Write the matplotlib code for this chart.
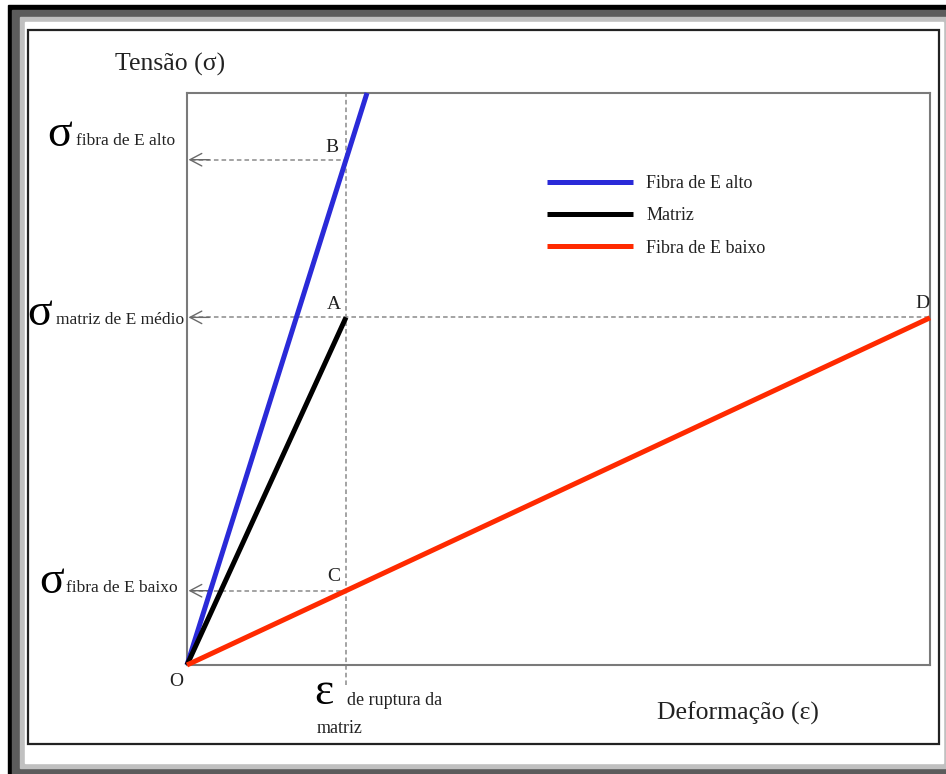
import matplotlib.pyplot as plt
from matplotlib.patches import Rectangle

plt.rcParams['font.family'] = ['Liberation Serif', 'DejaVu Serif']

# strain / stress in fractions of the plotted range
eps_ruptura = 0.214
E_alto = 4.128      # fibra de E alto
E_matriz = 2.84     # matriz de E medio
E_baixo = 0.607     # fibra de E baixo

strain_alto = [0, 1.0 / E_alto]
stress_alto = [0, 1.0]
strain_matriz = [0, eps_ruptura]
stress_matriz = [0, E_matriz * eps_ruptura]
strain_baixo = [0, 1.0]
stress_baixo = [0, E_baixo * 1.0]

sigma_B = E_alto * eps_ruptura
sigma_A = E_matriz * eps_ruptura
sigma_C = E_baixo * eps_ruptura

legend_labels = ['Fibra de E alto', 'Matriz', 'Fibra de E baixo']
colors = ['#2a2ad8', '#000000', '#ff2a00']

W, H = 946, 774
fig = plt.figure(figsize=(W / 100, H / 100), dpi=100)

# window-like frame behind everything, in pixel coordinates
bg = fig.add_axes([0, 0, 1, 1], zorder=0)
bg.set_xlim(0, W)
bg.set_ylim(H, 0)
bg.axis('off')
bg.add_patch(Rectangle((8, 5), 1000, 1000, color='black'))
bg.add_patch(Rectangle((12, 10), 1000, 1000, color='#5c5c5c'))
bg.add_patch(Rectangle((20, 17), 928, 751, color='#c0c0c0'))
bg.add_patch(Rectangle((25, 22), 918, 741, color='white'))
bg.add_patch(Rectangle((27.5, 30), 911.5, 714, fill=False, ec='#222222', lw=1.6))

# pixel-placed labels
bg.text(115, 64, 'Tensão (σ)', fontsize=18.5, va='center', ha='left', color='#222222')
bg.text(657, 713, 'Deformação (ε)', fontsize=18.5, va='center', ha='left', color='#222222')

big = 33
small = 12.5
bg.text(47, 146, 'σ', fontsize=big, va='baseline', ha='left')
bg.text(76, 145, 'fibra de E alto', fontsize=small, va='baseline', ha='left', color='#222222')
bg.text(27, 325, 'σ', fontsize=big, va='baseline', ha='left')
bg.text(56, 324, 'matriz de E médio', fontsize=small, va='baseline', ha='left', color='#222222')
bg.text(39, 593, 'σ', fontsize=big, va='baseline', ha='left')
bg.text(66, 592, 'fibra de E baixo', fontsize=small, va='baseline', ha='left', color='#222222')

bg.text(314, 704, 'ε', fontsize=big, va='baseline', ha='left')
bg.text(347, 705, 'de ruptura da', fontsize=13, va='baseline', ha='left', color='#222222')
bg.text(317, 733, 'matriz', fontsize=13, va='baseline', ha='left', color='#222222')

# main plot area
ax = fig.add_axes([187 / W, 1 - 665 / H, 743 / W, 572 / H], zorder=1)
ax.set_xlim(0, 1)
ax.set_ylim(0, 1)
ax.set_facecolor('none')
ax.set_xticks([])
ax.set_yticks([])
for s in ax.spines.values():
    s.set_color('#7a7a7a')
    s.set_linewidth(1.5)

dash = dict(color='#8a8a8a', lw=1.1, ls=(0, (3, 2)), zorder=1)
# rupture strain of the matrix
ax.plot([eps_ruptura, eps_ruptura], [-0.035, 1.0], clip_on=False, **dash)
# stress levels
ax.plot([0.005, eps_ruptura], [sigma_B, sigma_B], **dash)
ax.plot([0.005, 1.0], [sigma_A, sigma_A], **dash)
ax.plot([0.005, eps_ruptura], [sigma_C, sigma_C], **dash)
for sy in [sigma_B, sigma_A, sigma_C]:
    ax.annotate('', xy=(0.002, sy), xytext=(0.03, sy),
                arrowprops=dict(arrowstyle='->,head_length=0.85,head_width=0.45',
                                color='#6a6a6a', lw=1.0, shrinkA=0, shrinkB=0))

handles = []
for xs, ys, c, lab in zip([strain_alto, strain_matriz, strain_baixo],
                          [stress_alto, stress_matriz, stress_baixo],
                          colors, legend_labels):
    h, = ax.plot(xs, ys, color=c, lw=3.6, solid_capstyle='butt', label=lab,
                 zorder=3, clip_on=False)
    handles.append(h)

pt = dict(fontsize=14, ha='center', va='center', color='#222222')
ax.text(eps_ruptura - 0.019, sigma_B + 0.022, 'B', **pt)
ax.text(eps_ruptura - 0.016, sigma_A + 0.022, 'A', **pt)
ax.text(eps_ruptura - 0.016, sigma_C + 0.025, 'C', **pt)
ax.text(0.99, stress_baixo[1] + 0.025, 'D', **pt)
ax.text(-0.015, -0.028, 'O', clip_on=False, **pt)

leg = ax.legend(handles=handles, loc='upper left', bbox_to_anchor=(547 / W, 1 - 175 / H),
                bbox_transform=fig.transFigure, frameon=False, fontsize=13,
                handlelength=4.75, handletextpad=0.75, labelspacing=0.85, borderpad=0,
                borderaxespad=0)
for t in leg.get_texts():
    t.set_color('#222222')

fig.savefig('out.png', dpi=100)
